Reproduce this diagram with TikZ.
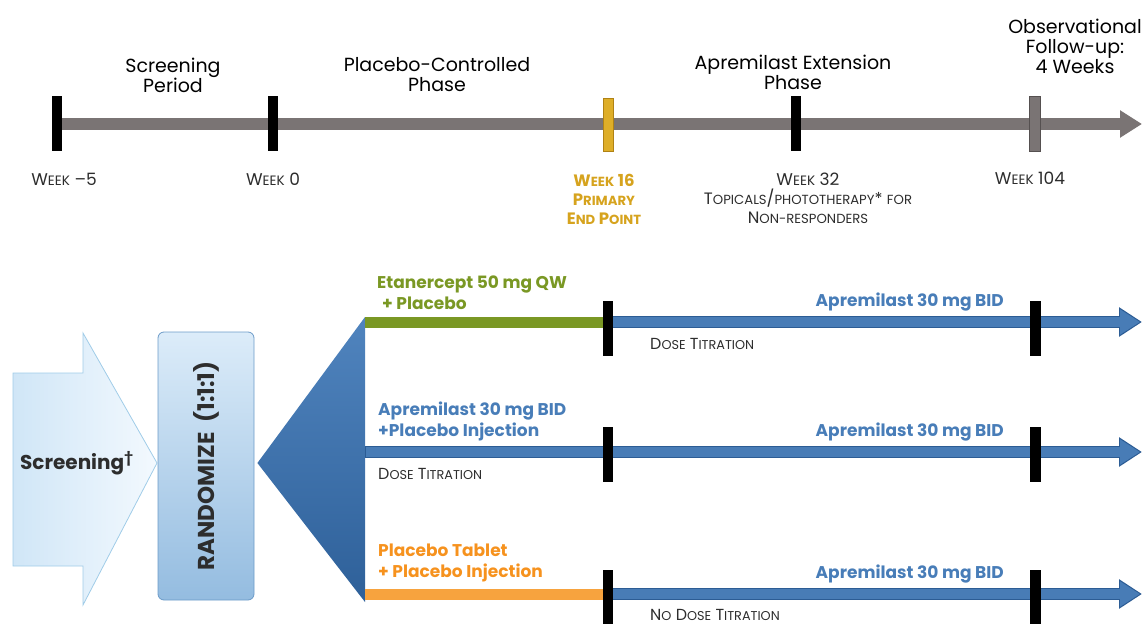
\documentclass[tikz,border=0pt]{standalone}
\usepackage{graphicx}
\usepackage{fontspec}
\setmainfont{Poppins}
\usetikzlibrary{arrows.meta, positioning, calc}
\definecolor{barGray}{RGB}{122, 116, 116}
\definecolor{tickGray}{RGB}{85, 80, 80}
\definecolor{goldColor}{RGB}{222, 174, 40}
\definecolor{goldDark}{RGB}{176, 130, 20}
\definecolor{goldText}{RGB}{214, 163, 30}
\definecolor{oliveColor}{RGB}{122, 152, 36}
\definecolor{armBlue}{RGB}{72, 124, 182}
\definecolor{armDark}{RGB}{44, 92, 148}
\definecolor{textBlue}{RGB}{72, 125, 184}
\definecolor{orangeColor}{RGB}{246, 146, 30}
\definecolor{orangeBar}{RGB}{247, 163, 62}
\definecolor{fanTop}{RGB}{80, 132, 190}
\definecolor{fanBottom}{RGB}{46, 96, 153}
\definecolor{screenLeft}{RGB}{208, 230, 247}
\definecolor{screenRight}{RGB}{243, 249, 254}
\definecolor{screenBorder}{RGB}{160, 204, 232}
\definecolor{randTop}{RGB}{220, 236, 249}
\definecolor{randBottom}{RGB}{148, 188, 224}
\definecolor{randBorder}{RGB}{108, 155, 200}
\definecolor{noteGray}{RGB}{45, 45, 45}

% reduced capitals for the small-caps labels
\newcommand{\low}[1]{\scalebox{0.8}{#1}}

\begin{document}
\begin{tikzpicture}[
    x=1pt, y=-1pt,
    tickmark/.style={rectangle, fill=black, minimum width=10pt, minimum height=55pt, inner sep=0pt},
    phase/.style={align=center, font=\fontsize{19}{20}\selectfont, inner sep=0pt},
    week/.style={align=center, font=\fontsize{17}{19}\selectfont, text=noteGray, inner sep=0pt},
    drug/.style={align=left, font=\fontsize{17}{21}\selectfont\bfseries, inner sep=0pt, anchor=west},
    note/.style={font=\fontsize{16}{17}\selectfont, text=noteGray, inner sep=0pt, anchor=west},
    timeline/.style={draw=barGray, line width=12pt, -{Triangle[length=22pt, width=26pt]}},
    armedge/.style={draw=armDark, line width=12.5pt, -{Triangle[length=23pt, width=28pt]}},
    arm/.style={draw=armBlue, line width=10pt, -{Triangle[length=20pt, width=24pt]}}
]
\useasboundingbox (0,0) rectangle (1144,624);

% Study timeline
\coordinate (tlstart) at (57,124);
\coordinate (tlend) at (1142,124);
\draw [timeline] (tlstart) -- (tlend);

\node (wm5) [tickmark] at (57,123) {};
\node (w0) [tickmark] at (273,123) {};
\node (w16) [tickmark, fill=goldColor, draw=goldDark, line width=0.8pt, minimum height=53pt] at (608,125) {};
\node (w32) [tickmark] at (796,123) {};
\node (w104) [tickmark, fill=barGray, draw=tickGray, line width=1pt, minimum width=11pt] at (1035,124) {};

% Phases
\node (scrphase) [phase] at (173,75) {Screening\\Period};
\node (pcphase) [phase] at (437,75) {Placebo-Controlled\\Phase};
\node (extphase) [phase] at (793,72) {Apremilast Extension\\Phase};
\node (obsphase) [phase] at (1075,46) {Observational\\Follow-up:\\4 Weeks};

% Week labels
\node (lwm5) [week, below=22pt of wm5, xshift=7pt] {W\low{EEK} \textendash5};
\node (lw0) [week, below=22pt of w0] {W\low{EEK} 0};
\node (lw16) [week, below=22pt of w16, xshift=-4pt, text=goldText, font=\fontsize{16.5}{19}\selectfont\bfseries]
    {W\low{EEK} 16\\P\low{RIMARY}\\E\low{ND} P\low{OINT}};
\node (lw32) [week, below=22pt of w32, xshift=12pt]
    {W\low{EEK} 32\\{\fontsize{16.5}{19}\selectfont T\low{OPICALS}/\low{PHOTOTHERAPY}* \low{FOR}}\\{\fontsize{16.5}{19}\selectfont N\low{ON-RESPONDERS}}};
\node (lw104) [week, below=20pt of w104, xshift=-5pt] {W\low{EEK} 104};

% Screening and randomisation
\draw [draw=screenBorder, left color=screenLeft, right color=screenRight, line width=0.8pt]
    (13,373) -- (83,373) -- (83,333) -- (157,463) -- (83,605) -- (83,566) -- (13,566) -- cycle;
\node (screen) [font=\fontsize{20}{22}\selectfont\bfseries, text=noteGray] at (77,463) {Screening\textsuperscript{\textdagger}};
\node (rand) [rectangle, rounded corners=6pt, draw=randBorder, line width=0.8pt, top color=randTop, bottom color=randBottom,
    minimum width=96pt, minimum height=268pt] at (206,466) {};
\node (randtext) [rotate=90, font=\fontsize{23}{24}\selectfont\bfseries, text=noteGray] at (rand.center) {RANDOMIZE\ \ (1:1:1)};

% Treatment arms
\coordinate (fantip) at ($(rand.east)+(3,-3)$);
\coordinate (a1s) at (365,322);
\coordinate (a1m) at (608,322);
\coordinate (a1e) at (1140,322);
\coordinate (a2s) at (365,452);
\coordinate (a2e) at (1140,452);
\coordinate (a3s) at (365,594);
\coordinate (a3m) at (608,594);
\coordinate (a3e) at (1140,594);

\shade [top color=fanTop, bottom color=fanBottom] (fantip) -- ($(a1s)+(0,-5)$) -- ($(a3s)+(0,8)$) -- cycle;
\draw [line width=11pt, draw=oliveColor] (a1s) -- (a1m);
\draw [line width=11pt, draw=orangeBar] (a3s) -- (a3m);
\foreach \s/\e in {a1m/a1e, a2s/a2e, a3m/a3e} {
    \draw [armedge] (\s) -- ($(\e)+(2,0)$);
    \draw [arm] ($(\s)+(1,0)$) -- (\e);
}

\foreach \y/\name in {328/one, 454/two, 597/three} {
    \node (t16\name) [tickmark] at (608,\y) {};
    \node (t104\name) [tickmark, minimum width=11pt] at (1035,\y) {};
}

% Arm labels
\node (etan) [drug, text=oliveColor] at (377,293) {Etanercept 50 mg QW\\\hspace{5pt}+ Placebo};
\node (apre) [drug, text=textBlue] at (378,421) {Apremilast 30 mg BID\\+Placebo Injection};
\node (plac) [drug, text=orangeColor] at (378,563) {Placebo Tablet\\+ Placebo Injection};
\foreach \y/\name in {302/one, 432/two, 574/three}
    \node (ext\name) [drug, anchor=east, text=textBlue] at (1004,\y) {Apremilast 30 mg BID};

\node (dtone) [note] at (650,344) {D\low{OSE} T\low{ITRATION}};
\node (dttwo) [note] at (378,474) {D\low{OSE} T\low{ITRATION}};
\node (ndt) [note] at (650,615) {N\low{O} D\low{OSE} T\low{ITRATION}};

\end{tikzpicture}
\end{document}
